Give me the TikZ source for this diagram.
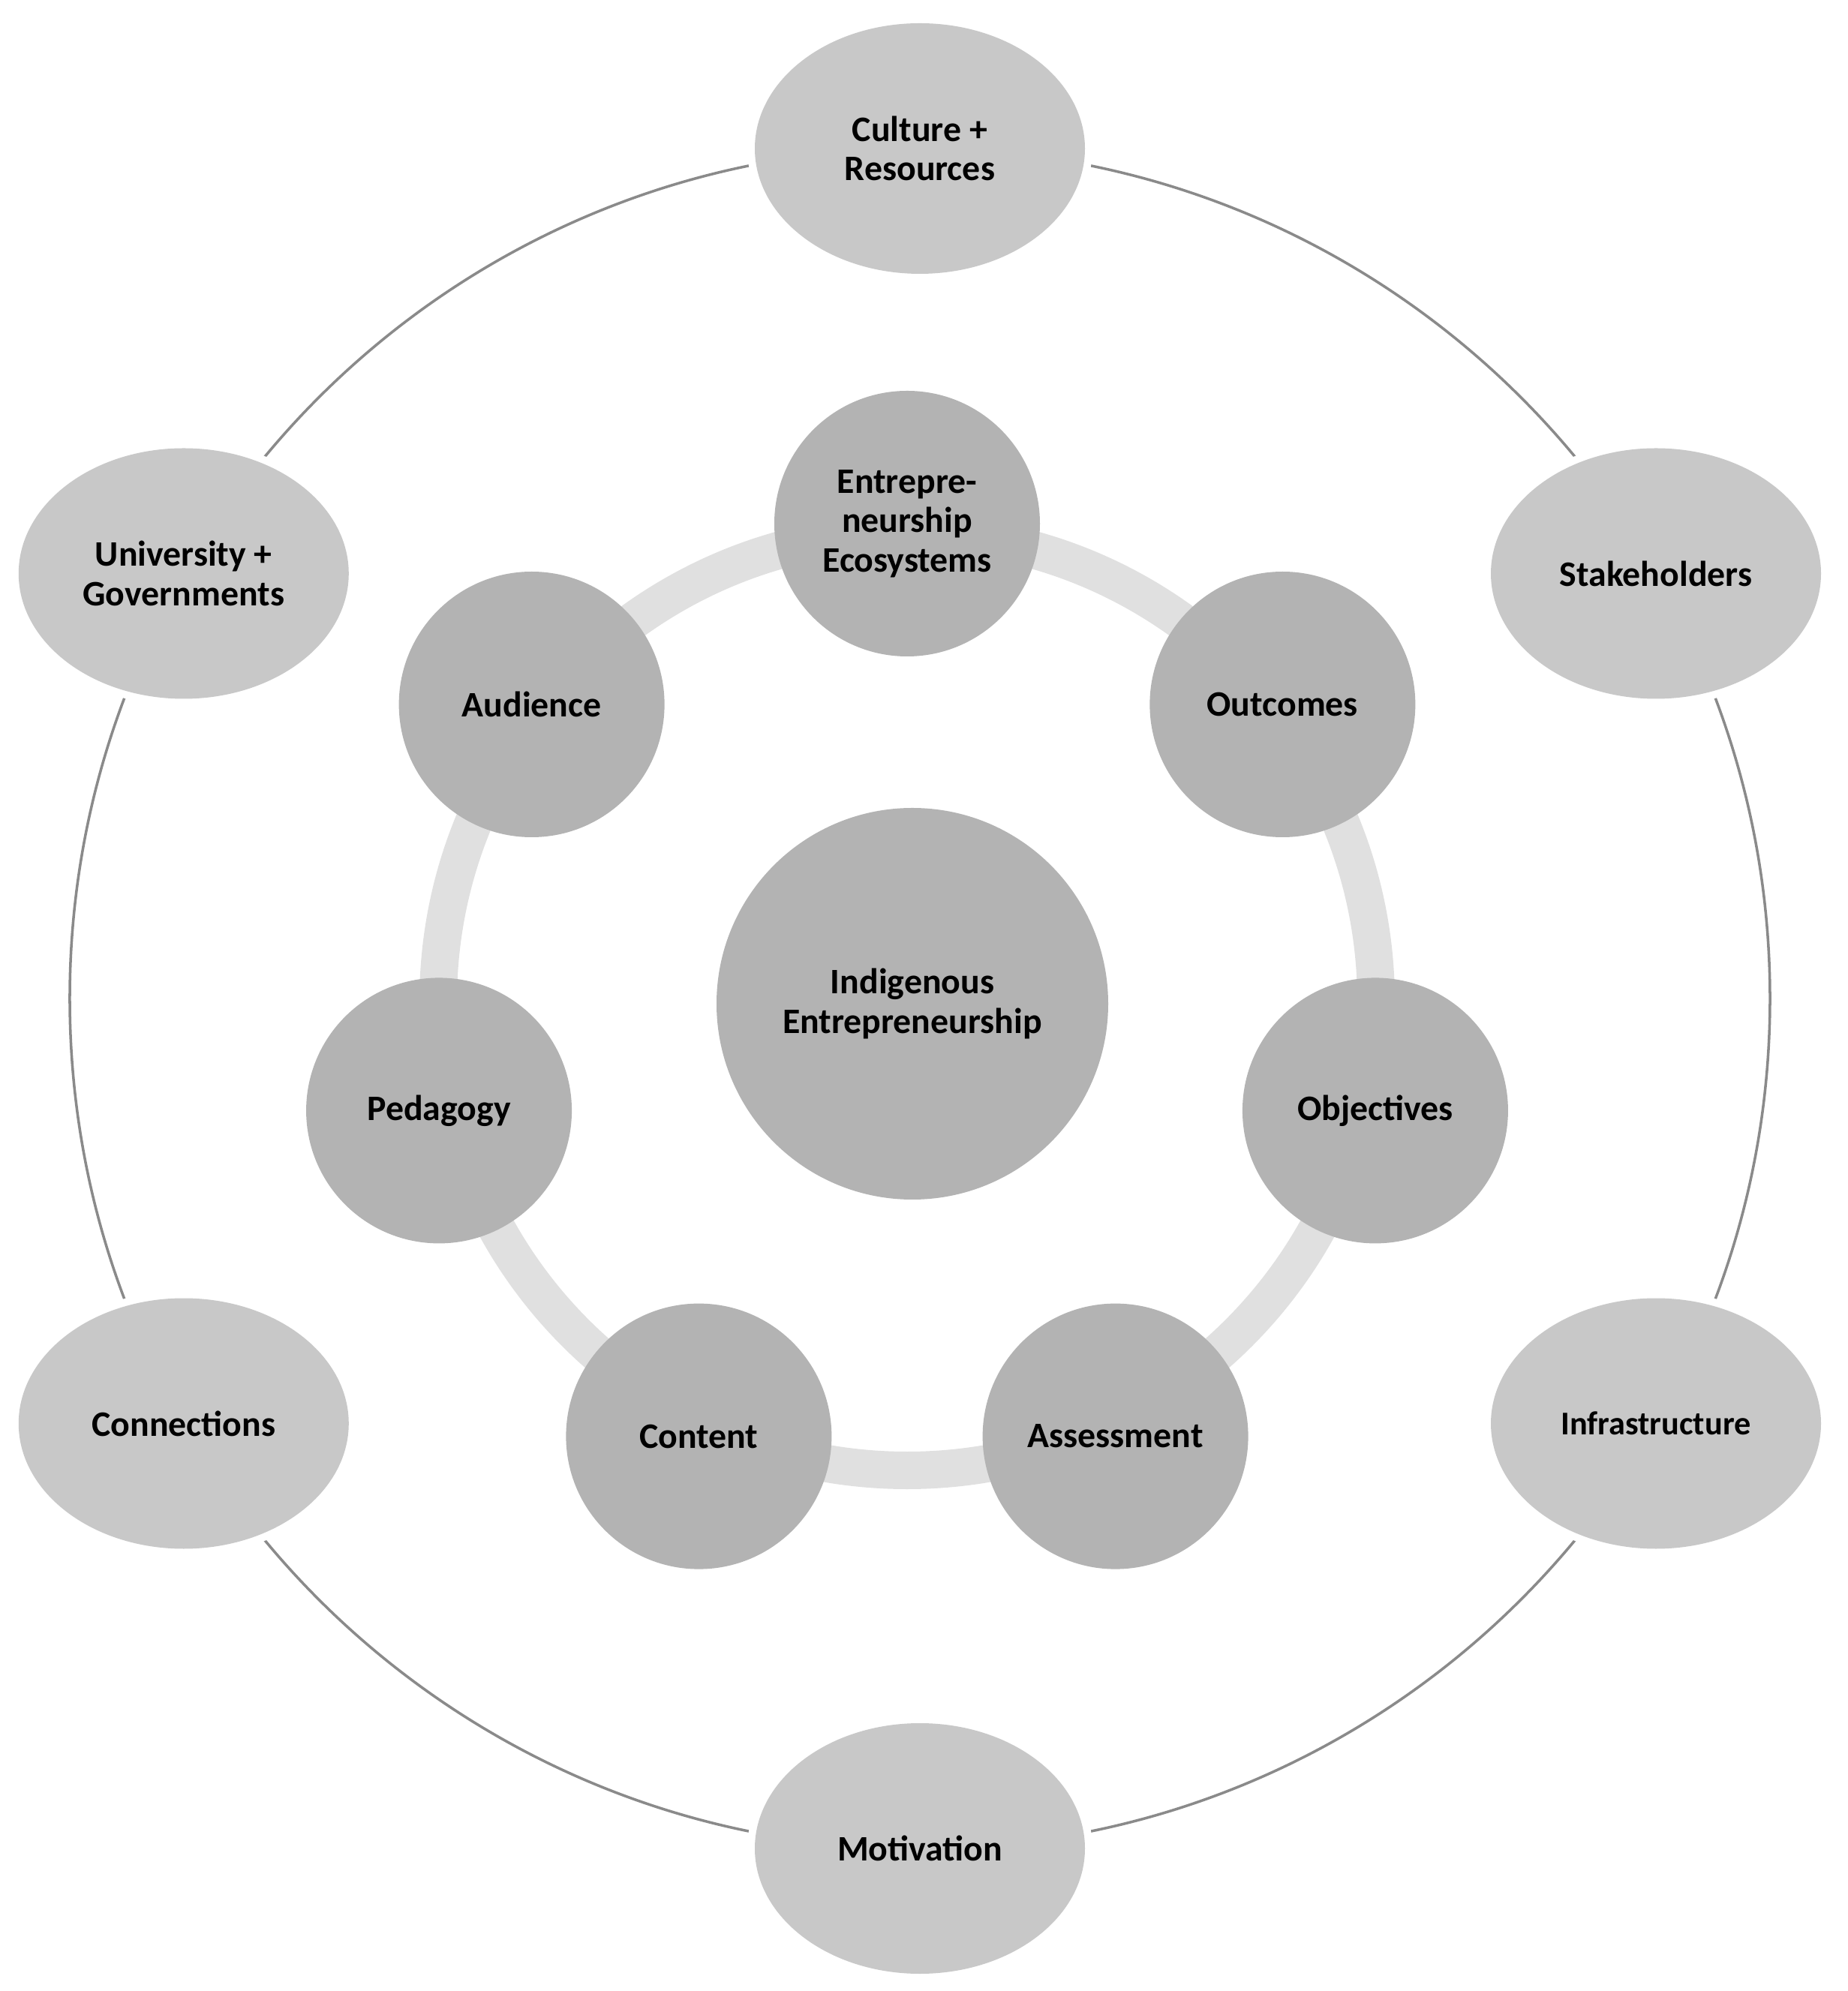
\documentclass[tikz,border=0pt]{standalone}
\usepackage{fontspec}
\setmainfont{Carlito}
\definecolor{ellipsegray}{HTML}{C8C8C8}
\definecolor{circlegray}{HTML}{B3B3B3}
\definecolor{ringgray}{HTML}{E0E0E0}
\definecolor{linegray}{HTML}{8A8A8A}
\usetikzlibrary{shapes.geometric}
\tikzset{
  outer/.style={ellipse, fill=ellipsegray, minimum width=4.4cm, minimum height=3.34cm, inner sep=0pt, align=center,
    preaction={draw=white, line width=0.2cm}},
  inner/.style={circle, fill=circlegray, minimum size=3.54cm, inner sep=0pt, align=center},
}
\begin{document}
\begin{tikzpicture}[font=\bfseries\fontsize{13.6}{15}\selectfont]
\useasboundingbox (-12.16,-13.16) rectangle (12.46,13.38);
\coordinate (ringc) at (0.1,0.07);
% outer thin ring and inner thick ring
\draw[linegray, line width=1pt] (ringc) circle (11.33);
\draw[ringgray, line width=0.5cm] (-0.07,0.03) circle (6.25);
% hub
\node[circle, fill=circlegray, minimum size=5.22cm, inner sep=0pt, align=center] (hub) at (0,0) {Indigenous\\Entrepreneurship};
% outer ellipses
\node[outer] (culture) at (0.1,11.4) {Culture +\\Resources};
\node[outer] (stake) at (9.91,5.735) {Stakeholders};
\node[outer, font=\bfseries\fontsize{12.6}{15}\selectfont] (infra) at (9.91,-5.595) {Infrastructure};
\node[outer] (motiv) at (0.1,-11.26) {Motivation};
\node[outer] (conn) at (-9.712,-5.595) {Connections};
\node[outer] (univ) at (-9.712,5.735) {University +\\Governments};
% inner circles
\node[inner] (ecosys) at ([xshift=-0.07cm]90:6.4) {Entrepre-\\neurship\\Ecosystems};
\node[inner] (outcomes) at ([xshift=-0.07cm]38.57:6.4) {Outcomes};
\node[inner] (objectives) at ([xshift=-0.07cm]-12.86:6.4) {Objectives};
\node[inner] (assess) at ([xshift=-0.07cm]-64.29:6.4) {Assessment};
\node[inner] (content) at ([xshift=-0.07cm]-115.71:6.4) {Content};
\node[inner] (pedagogy) at ([xshift=-0.07cm]-167.14:6.4) {Pedagogy};
\node[inner] (audience) at ([xshift=-0.07cm]141.43:6.4) {Audience};
\end{tikzpicture}
\end{document}
